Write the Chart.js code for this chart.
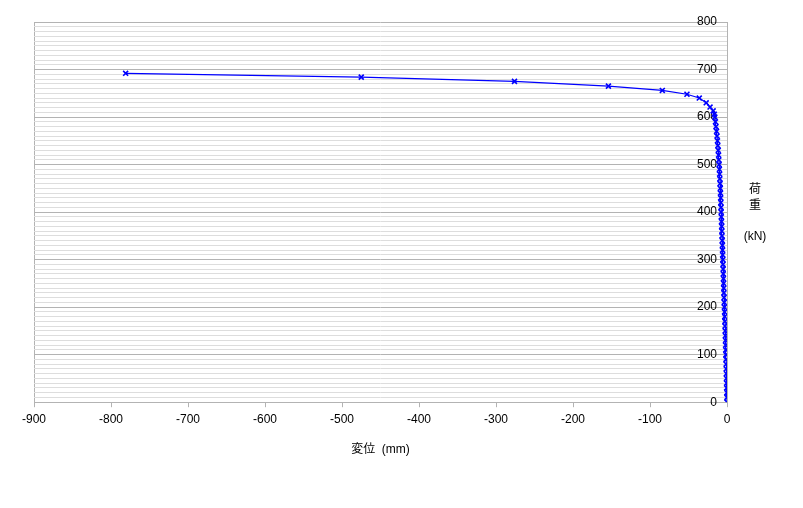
<!DOCTYPE html>
<html>
<head>
<meta charset="utf-8">
<script src="https://cdn.jsdelivr.net/npm/chart.js@4"></script>
<style>
  html, body { margin: 0; padding: 0; background: #ffffff; }
  #wrap { width: 803px; height: 508px; }
</style>
</head>
<body>
<div id="wrap"><canvas id="my-chart" width="803" height="508"></canvas></div>
<script>
'use strict';

// ********** DATA **********

// load (kN) and displacement (mm)
let loadValues = [
  0, 10, 20, 30, 40, 50, 60, 70, 80, 90,
  100, 110, 120, 130, 140, 150, 160, 170, 180, 190,
  200, 210, 220, 230, 240, 250, 260, 270, 280, 290,
  300, 310, 320, 330, 340, 350, 360, 370, 380, 390,
  400, 410, 420, 430, 440, 450, 460, 470, 480, 490,
  500, 510, 520, 530, 540, 550, 560, 570, 580, 590,
  600, 606, 613, 621, 630, 640, 648, 656, 665, 675, 684, 692
];
let dispValues = [
  0, -0.1, -0.2, -0.4, -0.5, -0.7, -0.8, -1.0, -1.1, -1.3,
  -1.4, -1.6, -1.8, -1.9, -2.1, -2.3, -2.5, -2.7, -2.9, -3.1,
  -3.4, -3.6, -3.8, -4.0, -4.2, -4.4, -4.6, -4.8, -5.0, -5.2,
  -5.4, -5.6, -5.8, -6.0, -6.2, -6.5, -6.7, -6.9, -7.1, -7.4,
  -7.6, -7.8, -8.0, -8.2, -8.5, -8.7, -9.0, -9.3, -9.6, -9.9,
  -10.2, -10.6, -11.0, -11.4, -11.9, -12.4, -13.0, -13.6, -14.3, -15.0,
  -15.8, -16.5, -18, -22, -27, -36, -52, -84, -154, -276, -475, -781
];

let xTicks = [-900, -800, -700, -600, -500, -400, -300, -200, -100, 0];
let yTicks = [0, 100, 200, 300, 400, 500, 600, 700, 800];
let xTitle = '変位  (mm)';
let yTitleLines = ['荷', '重', '', '(kN)'];

// ********** CHART **********

let ctx = document.getElementById('my-chart');

let points = [];
for (let i = 0; i < loadValues.length; i++) {
  points.push({ x: dispValues[i], y: loadValues[i] });
}

const fontFamily = '"Liberation Sans", "Noto Sans CJK JP", Arial, sans-serif';

// vertical title on the right side
let yTitlePlugin = {
  id: 'yTitle',
  afterDraw(chart) {
    let c = chart.ctx;
    c.save();
    c.fillStyle = '#000000';
    c.font = '12px ' + fontFamily;
    c.textAlign = 'center';
    c.textBaseline = 'middle';
    let y0 = 190;
    for (let i = 0; i < yTitleLines.length; i++) {
      c.fillText(yTitleLines[i], 755, y0 + i * 15.7);
    }
    c.restore();
  }
};

let chartObj = {
  type: 'scatter',
  data: {
    datasets: [{
      data: points,
      showLine: true,
      borderColor: '#0000ff',
      backgroundColor: '#0000ff',
      borderWidth: 1.2,
      pointStyle: 'crossRot',
      pointRadius: 3.5,
      pointBorderWidth: 1.6,
      pointBorderColor: '#0000ff',
      tension: 0
    }]
  },
  options: {
    responsive: false,
    animation: false,
    layout: {
      padding: { left: 34, right: 76, top: 22, bottom: 47 }
    },
    plugins: {
      legend: { display: false },
      tooltip: { enabled: false }
    },
    scales: {
      x: {
        type: 'linear',
        min: -900,
        max: 0,
        afterBuildTicks: (axis) => { axis.ticks = xTicks.map(v => ({ value: v })); },
        grid: {
          color: (c) => (c.tick && c.tick.value === -900 ? '#b3b3b3' : 'rgba(0,0,0,0)'),
          tickColor: '#b3b3b3',
          tickLength: 5,
          lineWidth: 1
        },
        border: { color: '#b3b3b3', width: 1 },
        ticks: {
          color: '#000000',
          font: { family: fontFamily, size: 12 },
          padding: 5,
          maxRotation: 0
        },
        title: {
          display: true,
          text: xTitle,
          color: '#000000',
          font: { family: fontFamily, size: 12 },
          padding: { top: 11 }
        }
      },
      y: {
        type: 'linear',
        position: 'right',
        min: 0,
        max: 800,
        ticks: {
          stepSize: 10,
          autoSkip: false,
          mirror: true,
          padding: -10,
          color: '#000000',
          font: { family: fontFamily, size: 12 },
          callback: (v) => (yTicks.includes(v) ? String(v) : '')
        },
        grid: {
          color: (c) => (c.tick && c.tick.value % 100 === 0 ? '#b3b3b3' : '#dddddd'),
          lineWidth: 1,
          drawTicks: false
        },
        border: { color: '#b3b3b3', width: 1 }
      }
    }
  },
  plugins: [yTitlePlugin]
};

new Chart(ctx, chartObj); //eslint-disable-line
</script>
</body>
</html>
